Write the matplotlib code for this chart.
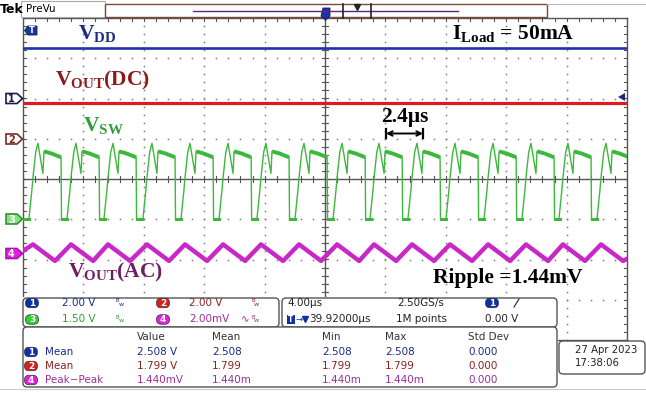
import numpy as np
import matplotlib.pyplot as plt
from matplotlib.patches import Polygon, FancyBboxPatch, Rectangle

plt.rcParams['mathtext.fontset'] = 'custom'
plt.rcParams['mathtext.rm'] = 'Liberation Serif:bold'
plt.rcParams['mathtext.it'] = 'Liberation Serif:bold'
plt.rcParams['mathtext.bf'] = 'Liberation Serif:bold'

W, H = 646, 394

# ---- values ----
vdd_level = 2.508          # ch1 mean (V)
vout_dc = 1.799            # ch2 mean (V)

# switch node peaks (us), one cycle shape relative to the peak (us, V)
sw_peaks = [-19.01, -16.49, -14.04, -11.46, -8.94, -6.42, -3.91, -1.39,
            1.13, 3.58, 6.09, 8.61, 11.13, 13.64, 16.09, 18.61]
cyc_t = [-0.60, -0.40, -0.34, -0.15, 0.0, 0.33, 0.40, 0.90, 1.53, 1.56, 1.90]
cyc_v = [0.0, 1.10, 1.50, 2.50, 2.83, 1.71, 2.53, 2.45, 2.31, 0.02, 0.0]

# output ripple (mV): peak / trough relative to switch peak, plus screen edges
rip_t = [-0.33, 1.13]
rip_v = [0.47, -0.35]
rip_left, rip_right = 0.15, -0.25

# channel setup: volts per div, ground position (div)
ch_vdiv = [2.0, 2.0, 1.5, 2.0]
ch_gnd = [2.0, 1.0, -1.0, -1.86]

ch_text = ['2.00 V', '2.00 V', '1.50 V', '2.00mV']
meas_cols = ['Value', 'Mean', 'Min', 'Max', 'Std Dev']
meas_ch = ['1', '2', '4']
meas_names = ['Mean', 'Mean', 'Peak\u2212Peak']
meas_vals = [['2.508 V', '2.508', '2.508', '2.508', '0.000'],
             ['1.799 V', '1.799', '1.799', '1.799', '0.000'],
             ['1.440mV', '1.440m', '1.440m', '1.440m', '0.000']]

C_BLUE, C_RED, C_GREEN, C_MAG = '#1f32a8', '#e01a22', '#3cb83c', '#c828c8'
B_BLUE, B_RED, B_GREEN, B_MAG = '#1030a8', '#d42020', '#33cc33', '#e020e0'
T_BLUE, T_RED, T_GREEN, T_MAG = '#1c2a8a', '#8b2020', '#2f9f2f', '#9b2f9b'

fig = plt.figure(figsize=(W / 100, H / 100), dpi=100)
fig.patch.set_facecolor('white')

# ---- graticule ----
ax = fig.add_axes([23 / W, 1 - 340 / H, 604 / W, 322 / H])
ax.set_xlim(-20, 20)
ax.set_ylim(-4, 4)
ax.set_xticks([])
ax.set_yticks([])
for sp in ax.spines.values():
    sp.set_color('#555555')
    sp.set_linewidth(1.0)

mx = np.arange(-20, 20.01, 0.8)
my = np.arange(-4, 4.01, 0.2)
for gx in range(-16, 17, 4):
    if gx != 0:
        ax.plot(np.full_like(my, gx), my, ls='none', marker='o', ms=1.3,
                mew=0, color='#888888', zorder=1)
for gy in range(-3, 4):
    if gy != 0:
        ax.plot(mx, np.full_like(mx, gy), ls='none', marker='o', ms=1.3,
                mew=0, color='#888888', zorder=1)
ax.axhline(0, color='#555555', lw=1.0, zorder=1)
ax.axvline(0, color='#555555', lw=1.0, zorder=1)
for x in mx:
    ax.plot([x, x], [-0.08, 0.08], color='#555555', lw=0.8, zorder=1)
    ax.plot([x, x], [4, 3.92], color='#555555', lw=0.8, zorder=1)
for y in my:
    ax.plot([-0.2, 0.2], [y, y], color='#555555', lw=0.8, zorder=1)
    ax.plot([-20, -19.8], [y, y], color='#555555', lw=0.8, zorder=1)
    ax.plot([20, 19.8], [y, y], color='#555555', lw=0.8, zorder=1)

# ---- traces ----
def to_div(v, ch):
    return ch_gnd[ch] + np.asarray(v, dtype=float) / ch_vdiv[ch]

ax.plot([-20, 20], to_div([vdd_level, vdd_level], 0), color=C_BLUE, lw=1.9, zorder=3)
ax.plot([-20, 20], to_div([vout_dc, vout_dc], 1), color=C_RED, lw=2.3, zorder=3)

t_sw, v_sw = [-20.0], [0.0]
for tp in sw_peaks:
    t_sw += [tp + c for c in cyc_t]
    v_sw += cyc_v
ax.plot(t_sw, to_div(v_sw, 2), color=C_GREEN, lw=1.0, zorder=3)
ax.plot([-20, sw_peaks[0] + cyc_t[0]], to_div([0, 0], 2), color=C_GREEN, lw=2.2, zorder=3)
for tp in sw_peaks:
    ax.plot([tp + c for c in cyc_t[6:9]], to_div(cyc_v[6:9], 2),
            color=C_GREEN, lw=2.8, solid_capstyle='butt', zorder=3)
    ax.plot([tp + c for c in cyc_t[9:]] + [tp + 2.5 + cyc_t[0]], to_div([0, 0, 0], 2),
            color=C_GREEN, lw=2.2, zorder=3)

t_r, v_r = [-20.0], [rip_left]
for tp in sw_peaks:
    t_r += [tp + c for c in rip_t]
    v_r += rip_v
t_r.append(20.0)
v_r.append(rip_right)
ax.plot(t_r, to_div(v_r, 3), color=C_MAG, lw=3.2, zorder=3, solid_joinstyle='round')

# ---- overlay in pixel coordinates ----
axp = fig.add_axes([0, 0, 1, 1])
axp.set_xlim(0, W)
axp.set_ylim(H, 0)
axp.axis('off')
axp.patch.set_alpha(0)
axp.set_zorder(2)

def rbox(x0, y0, x1, y1, ec='#555555', r=4, lw=1.0, fc='white'):
    axp.add_patch(FancyBboxPatch((x0, y0), x1 - x0, y1 - y0,
                                 boxstyle='round,pad=0,rounding_size=%g' % r,
                                 fc=fc, ec=ec, lw=lw))

def badge(x, y, label, fc, w=13, h=9.5):
    axp.add_patch(FancyBboxPatch((x - w / 2, y - h / 2), w, h,
                                 boxstyle='round,pad=0,rounding_size=4.5',
                                 fc=fc, ec='#333333', lw=0.5))
    axp.text(x, y + 0.3, label, color='white', fontsize=6.5, fontweight='bold',
             ha='center', va='center')

def bw(x, y, c):
    axp.text(x, y - 2, 'B', color=c, fontsize=4, ha='left', va='center')
    axp.text(x + 3, y + 1, 'w', color=c, fontsize=4.5, ha='left', va='center')

def gnd_marker(yc, label, fc, ec, tc):
    pts = [(6, yc - 5), (17, yc - 5), (22.5, yc), (17, yc + 5), (6, yc + 5)]
    axp.add_patch(Polygon(pts, closed=True, fc=fc, ec=ec, lw=1.2))
    axp.text(11.5, yc + 0.5, label, color=tc, fontsize=7, fontweight='bold',
             ha='center', va='center')

# top bar
axp.plot([547, W], [4, 4], color='#bbbbbb', lw=0.8)
axp.add_patch(Rectangle((20.5, 0.5), 84, 16, fc='white', ec='#aaaaaa', lw=0.8))
axp.text(0, 9, 'Tek', fontsize=9, fontweight='bold', ha='left', va='center')
axp.text(26, 8.5, 'PreVu', fontsize=7.5, ha='left', va='center')
axp.add_patch(Rectangle((105, 4), 442, 13, fc='white', ec='#7a4a3a', lw=1.0))
axp.plot([193, 458], [11, 11], color='#5a2a7a', lw=1.0)
axp.plot([343, 343], [3.5, 17.5], color='#222222', lw=1.2)
axp.plot([371, 371], [3.5, 17.5], color='#222222', lw=1.2)
axp.plot([357], [7], marker='v', ms=4, color='#222222')
axp.add_patch(Polygon([(323, 8), (330, 8), (330, 16), (325.5, 20), (321, 16)],
                      closed=True, fc=C_BLUE, ec='#0a1a60', lw=0.6))

# left ground markers
axp.add_patch(Polygon([(37, 26), (28, 26), (24.5, 30.5), (28, 35), (37, 35)],
                      closed=True, fc='#1a3a9a', ec='#0a1a60', lw=0.6))
axp.text(31.5, 30.8, 'T', color='white', fontsize=6, fontweight='bold',
         ha='center', va='center')
gnd_marker(98.5, '1', 'white', '#1a1a4a', '#1a1a4a')
gnd_marker(139, '2', 'white', '#7a2a2a', '#7a2a2a')
gnd_marker(219, '3', '#8fdc8f', '#2a9a2a', 'white')
gnd_marker(253.5, '4', '#e020e0', '#b010b0', 'white')
# trigger level arrow on the right edge
axp.add_patch(Polygon([(618, 97), (625, 93), (625, 101)], closed=True,
                      fc='#1a2a7a', ec='none'))

# annotations
serif = dict(family='Liberation Serif', fontweight='bold', fontsize=15.5,
             ha='left', va='baseline')
axp.text(78, 39, 'V$_{\\mathrm{DD}}$', color='#1f2b80', **serif)
axp.text(452, 39, 'I$_{\\mathrm{Load}}$ = 50mA', color='black', **serif)
axp.text(55, 85, 'V$_{\\mathrm{OUT}}$(DC)', color='#8b1c1c', **serif)
axp.text(83, 131, 'V$_{\\mathrm{SW}}$', color='#2e9e3e', **serif)
axp.text(381, 122, '2.4\u00b5s', color='black', **serif)
axp.text(68, 277, 'V$_{\\mathrm{OUT}}$(AC)', color='#6f1f62', **serif)
axp.text(433, 283, 'Ripple =1.44mV', color='black', **serif)
axp.annotate('', xy=(386, 133.5), xytext=(423, 133.5),
             arrowprops=dict(arrowstyle='<->', color='black', lw=1.4,
                             shrinkA=0, shrinkB=0, mutation_scale=8))
axp.plot([386, 386], [129, 138], color='black', lw=1.6)
axp.plot([423, 423], [129, 138], color='black', lw=1.6)

# ---- lower panels ----
axp.add_patch(Rectangle((0, 297), 558, 97, fc='white', ec='none'))
axp.plot([0, W], [389, 389], color='#cccccc', lw=0.8)
rbox(23, 298, 279, 327)
rbox(282, 298, 557, 327)
rbox(23, 327, 557, 387)
rbox(559, 341, 645, 374)

sans = dict(family='DejaVu Sans', fontsize=7.5, ha='left', va='center')
r1, r2 = 303, 319.5
badge(32, r1, '1', B_BLUE)
axp.text(62, r1, ch_text[0], color=T_BLUE, **sans)
bw(116, r1, T_BLUE)
badge(163, r1, '2', B_RED)
axp.text(189, r1, ch_text[1], color=T_RED, **sans)
bw(251, r1, T_RED)
badge(32, r2, '3', B_GREEN)
axp.text(62, r2, ch_text[2], color=T_GREEN, **sans)
bw(116, r2, T_GREEN)
badge(163, r2, '4', B_MAG)
axp.text(189, r2, ch_text[3], color=T_MAG, **sans)
axp.text(241, r2, '\u223f', color=T_MAG, fontsize=7.5, ha='left', va='center')
bw(251, r2, T_MAG)

axp.text(287, r1, '4.00\u00b5s', color='#222222', **sans)
axp.text(397, r1, '2.50GS/s', color='#222222', **sans)
badge(492, r1, '1', B_BLUE)
axp.plot([514, 519], [307, 299], color='#222222', lw=0.8)
axp.add_patch(Rectangle((287, r2 - 4.5), 8, 9, fc=B_BLUE, ec='none'))
axp.text(291, r2 + 0.3, 'T', color='white', fontsize=5.5, fontweight='bold',
         ha='center', va='center')
axp.text(295.5, r2, '\u2192', color=B_BLUE, fontsize=6, ha='left', va='center')
axp.plot([305], [r2 - 0.5], marker='v', ms=4.5, color=B_BLUE)
axp.text(309, r2, '39.92000\u00b5s', color='#222222', **sans)
axp.text(396, r2, '1M points', color='#222222', **sans)
sans_r = dict(sans, ha='right')
axp.text(518, r2, '0.00 V', color='#222222', **sans_r)

col_x = [137, 212, 322, 385, 468]
for cx, name in zip(col_x, meas_cols):
    axp.text(cx, 336.5, name, color='#333333', **sans)
row_y = [352, 366, 380]
row_badge = [B_BLUE, B_RED, B_MAG]
row_col = [T_BLUE, T_RED, T_MAG]
for ry, ch, nm, vals, bc, tc in zip(row_y, meas_ch, meas_names, meas_vals,
                                    row_badge, row_col):
    badge(31, ry, ch, bc)
    axp.text(45, ry, nm, color=tc, **sans)
    for cx, v in zip(col_x, vals):
        axp.text(cx, ry, v, color=tc, **sans)

axp.text(575, 350, '27 Apr 2023', color='#222222', family='DejaVu Sans',
         fontsize=7.3, ha='left', va='center')
axp.text(575, 363.5, '17:38:06', color='#222222', family='DejaVu Sans',
         fontsize=7.3, ha='left', va='center')

fig.savefig('out.png', dpi=100)
